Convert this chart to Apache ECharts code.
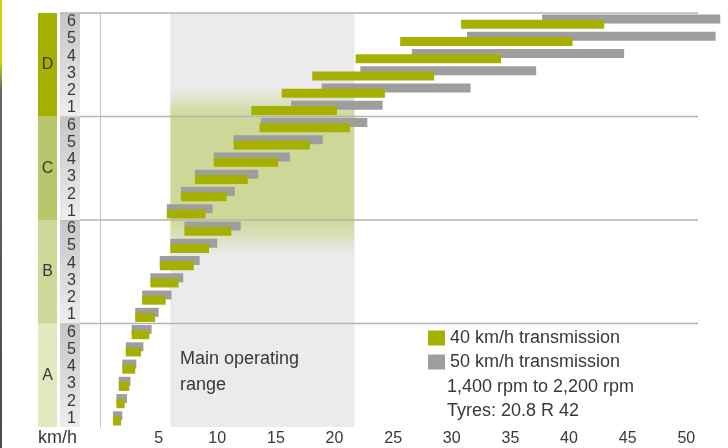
<!DOCTYPE html>
<html>
<head>
<meta charset="utf-8">
<script src="https://cdn.jsdelivr.net/npm/echarts@6/dist/echarts.min.js"></script>
<style>
html, body { margin: 0; padding: 0; background: #fff; }
#main { width: 728px; height: 448px; }
</style>
</head>
<body>
<div id="main"></div>
<script>
const groups = ['A', 'B', 'C', 'D']
const gears = ['1', '2', '3', '4', '5', '6']
const categories = groups.flatMap(g => gears.map(n => g + n))
// speed range per gear in km/h, A1 ... D6
const start40 = [1.1, 1.4, 1.6, 1.9, 2.2, 2.7, 3.0, 3.6, 4.3, 5.1, 6.0, 7.2, 5.7, 6.9, 8.1, 9.7, 11.4, 13.6, 12.9, 15.5, 18.1, 21.8, 25.6, 30.8]
const end40 = [1.8, 2.1, 2.5, 3.0, 3.5, 4.2, 4.7, 5.6, 6.7, 8.0, 9.3, 11.2, 9.0, 10.8, 12.6, 15.2, 17.9, 21.3, 20.2, 24.3, 28.5, 34.2, 40.3, 43.0]
const start50 = [1.1, 1.4, 1.6, 1.9, 2.2, 2.7, 3.0, 3.6, 4.3, 5.1, 6.0, 7.2, 5.7, 6.9, 8.1, 9.7, 11.4, 13.7, 16.3, 18.9, 22.2, 26.6, 31.3, 37.7]
const end50 = [1.9, 2.3, 2.6, 3.1, 3.7, 4.4, 5.0, 6.1, 7.1, 8.5, 10.0, 12.0, 9.6, 11.5, 13.5, 16.2, 19.0, 22.8, 24.1, 31.6, 37.2, 44.7, 52.5, 52.9]
const rangeFrom = 6
const rangeTo = 21.7

const font = 'Liberation Sans'
const textColor = '#383838'
const green = '#a5b000'
const gray = '#9e9e9e'
const bandColors = ['#e2e8c0', '#cdd898', '#b9c76b', '#a5b000']

const chart = echarts.init(document.getElementById('main'))

function barItem(offset, color) {
  return function (params, api) {
    const a = api.coord([api.value(0), api.value(2)])
    const b = api.coord([api.value(1), api.value(2)])
    const band = api.size([0, 1])[1]
    const h = band * 0.52
    return {
      type: 'rect',
      shape: { x: a[0], y: a[1] + offset * band - h / 2, width: b[0] - a[0], height: h },
      style: { fill: color }
    }
  }
}

function groupItem(params, api) {
  const g = api.value(0)
  const cs = params.coordSys
  const band = api.size([0, 1])[1]
  const top = api.coord([0, g * 6 + 5])[1] - band / 2
  const bottom = api.coord([0, g * 6])[1] + band / 2
  return {
    type: 'group',
    children: [
      { type: 'rect', shape: { x: cs.x - 62, y: top, width: 19, height: bottom - top }, style: { fill: bandColors[g] } },
      {
        type: 'rect',
        shape: { x: cs.x - 40, y: top, width: 20, height: bottom - top },
        style: { fill: new echarts.graphic.LinearGradient(0, 0, 0, 1, [{ offset: 0, color: '#c6c6c6' }, { offset: 1, color: '#ededed' }]) }
      },
      {
        type: 'text', x: cs.x - 52.5, y: (top + bottom) / 2,
        style: { text: groups[g], fill: textColor, font: '16px ' + font, align: 'center', verticalAlign: 'middle' }
      },
      { type: 'line', shape: { x1: cs.x - 40, y1: top, x2: cs.x + cs.width, y2: top }, style: { stroke: '#b4b4b4', lineWidth: 1.5 } }
    ]
  }
}

chart.setOption({
  animation: false,
  grid: { left: 100, right: 30, top: 13, bottom: 21 },
  xAxis: {
    type: 'value', min: 0, max: 51, interval: 5,
    axisLine: { lineStyle: { color: '#b4b4b4', width: 1.5 } },
    axisTick: { length: 5, lineStyle: { color: '#b4b4b4' } },
    axisLabel: {
      margin: 4, fontSize: 16, color: textColor, fontFamily: font,
      formatter: v => (v === 0 ? '' : v)
    },
    splitLine: { show: false }
  },
  yAxis: {
    type: 'category', data: categories, z: 3,
    axisLine: { lineStyle: { color: '#c4c4c4' } },
    axisTick: { interval: 0, length: 5, lineStyle: { color: '#c4c4c4' } },
    axisLabel: { interval: 0, margin: 24, fontSize: 16, color: textColor, fontFamily: font, formatter: v => v.slice(1) }
  },
  legend: {
    orient: 'vertical', left: 423, top: 324, icon: 'rect',
    itemWidth: 17, itemHeight: 15, itemGap: 6,
    textStyle: { fontSize: 18, color: textColor, fontFamily: font },
    data: ['40 km/h transmission', '50 km/h transmission']
  },
  graphic: [
    { type: 'rect', left: 0, top: 0, z: 100, shape: { width: 2, height: 448 },
      style: { fill: new echarts.graphic.LinearGradient(0, 0, 0, 1, [{ offset: 0, color: '#c9d300' }, { offset: 0.14, color: '#c9d300' }, { offset: 0.2, color: '#666' }, { offset: 1, color: '#4a4a4a' }]) } },
    { type: 'text', left: 180, top: 346, z: 100, style: { text: 'Main operating\nrange', font: '18px ' + font, fill: textColor, lineHeight: 26 } },
    { type: 'text', left: 447, top: 375, z: 100, style: { text: '1,400 rpm to 2,200 rpm\nTyres: 20.8 R 42', font: '18px ' + font, fill: textColor, lineHeight: 24 } },
    { type: 'text', left: 38, top: 429, z: 100, style: { text: 'km/h', font: '18px ' + font, fill: textColor } }
  ],
  series: [
    {
      type: 'line', data: [], z: 0, silent: true,
      markArea: {
        silent: true,
        itemStyle: {
          color: new echarts.graphic.LinearGradient(0, 0, 0, 1, [
            { offset: 0, color: '#ebebeb' }, { offset: 0.18, color: '#ebebeb' },
            { offset: 0.25, color: '#cdd898' }, { offset: 0.5, color: '#cdd898' },
            { offset: 0.585, color: '#ebebeb' }, { offset: 1, color: '#ebebeb' }
          ])
        },
        data: [[{ xAxis: rangeFrom }, { xAxis: rangeTo }]]
      }
    },
    {
      type: 'custom', name: 'groups', z: 1, silent: true, clip: false,
      renderItem: groupItem,
      data: groups.map((g, i) => [i]),
      encode: { x: -1, y: -1 }
    },
    {
      type: 'custom', name: '50 km/h transmission', z: 2, clip: false,
      itemStyle: { color: gray },
      renderItem: barItem(-0.15, gray),
      data: start50.map((s, i) => [s, end50[i], i]),
      encode: { x: [0, 1], y: 2 }
    },
    {
      type: 'custom', name: '40 km/h transmission', z: 2, clip: false,
      itemStyle: { color: green },
      renderItem: barItem(0.15, green),
      data: start40.map((s, i) => [s, end40[i], i]),
      encode: { x: [0, 1], y: 2 }
    }
  ]
})
</script>
</body>
</html>
